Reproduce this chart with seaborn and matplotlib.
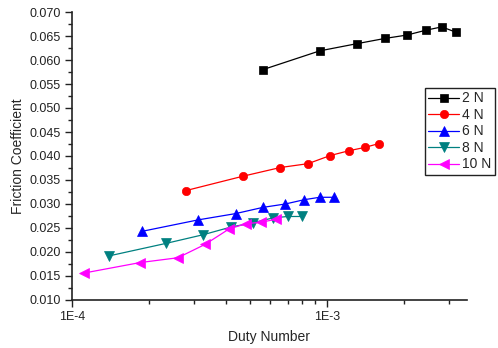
import matplotlib
matplotlib.use("Agg")
import matplotlib.pyplot as plt
import matplotlib.ticker as mticker
import seaborn as sns
import pandas as pd

# ---- data ----
labels = ["2 N", "4 N", "6 N", "8 N", "10 N"]
x_2N = [5.61e-4, 9.36e-4, 1.31e-3, 1.69e-3, 2.06e-3, 2.44e-3, 2.82e-3, 3.20e-3]
y_2N = [0.0580, 0.0619, 0.0634, 0.0645, 0.0652, 0.0662, 0.0669, 0.0658]
x_4N = [2.80e-4, 4.69e-4, 6.56e-4, 8.42e-4, 1.03e-3, 1.22e-3, 1.41e-3, 1.60e-3]
y_4N = [0.0328, 0.0358, 0.0376, 0.0384, 0.0401, 0.0411, 0.0418, 0.0426]
x_6N = [1.88e-4, 3.13e-4, 4.38e-4, 5.61e-4, 6.86e-4, 8.15e-4, 9.36e-4, 1.07e-3]
y_6N = [0.0243, 0.0267, 0.0280, 0.0293, 0.0300, 0.0309, 0.0314, 0.0314]
x_8N = [1.40e-4, 2.34e-4, 3.27e-4, 4.20e-4, 5.14e-4, 6.13e-4, 7.01e-4, 7.96e-4]
y_8N = [0.0192, 0.0218, 0.0236, 0.0252, 0.0261, 0.0271, 0.0274, 0.0274]
x_10N = [1.11e-4, 1.85e-4, 2.60e-4, 3.33e-4, 4.13e-4, 4.81e-4, 5.51e-4, 6.29e-4]
y_10N = [0.0156, 0.0178, 0.0188, 0.0216, 0.0248, 0.0259, 0.0262, 0.0268]
y_ticks = [0.010, 0.015, 0.020, 0.025, 0.030, 0.035, 0.040, 0.045,
           0.050, 0.055, 0.060, 0.065, 0.070]
x_tick_vals = [1e-4, 1e-3]
x_tick_labels = ["1E-4", "1E-3"]

series_x = [x_2N, x_4N, x_6N, x_8N, x_10N]
series_y = [y_2N, y_4N, y_6N, y_8N, y_10N]

colors = ["#000000", "#FF0000", "#0000FF", "#008080", "#FF00FF"]
markers = ["s", "o", "^", "v", "<"]
msizes = [5.5, 6, 6.5, 6.5, 6.5]

sns.set_style("ticks")
plt.rcParams["font.family"] = ["Liberation Sans", "DejaVu Sans"]
plt.rcParams["xtick.direction"] = "out"
plt.rcParams["ytick.direction"] = "out"

fig = plt.figure(figsize=(4.98, 3.48), dpi=100)
ax = fig.add_axes([72 / 498, 1 - 300 / 348, (467 - 72) / 498, (300 - 12) / 348])

for lab, xs, ys, c, m, ms in zip(labels, series_x, series_y, colors, markers, msizes):
    df = pd.DataFrame({"x": xs, "y": ys})
    sns.lineplot(data=df, x="x", y="y", ax=ax, color=c, marker=m,
                 markersize=ms, markeredgecolor=c, markerfacecolor=c,
                 markeredgewidth=0.5, linewidth=0.9, sort=False,
                 estimator=None, label=lab)

ax.set_xscale("log")
ax.set_xlim(1e-4, 10 ** (-3 + 140 / 255))
ax.set_ylim(0.010, 0.070)
ax.set_yticks(y_ticks)
ax.yaxis.set_major_formatter(mticker.FormatStrFormatter("%.3f"))
ax.yaxis.set_minor_locator(mticker.MultipleLocator(0.0025))
ax.xaxis.set_major_locator(mticker.FixedLocator(x_tick_vals))
ax.xaxis.set_major_formatter(mticker.FixedFormatter(x_tick_labels))
ax.xaxis.set_minor_locator(mticker.LogLocator(base=10, subs=range(2, 10), numticks=20))
ax.xaxis.set_minor_formatter(mticker.NullFormatter())

ax.tick_params(axis="both", which="major", length=5, width=1, labelsize=9,
               colors="#222222", labelcolor="#222222", pad=3)
ax.tick_params(axis="both", which="minor", length=3, width=1, colors="#222222")
for s in ["left", "bottom"]:
    ax.spines[s].set_linewidth(1.2)
    ax.spines[s].set_color("#222222")
sns.despine(ax=ax)

ax.set_xlabel("Duty Number", fontsize=10, labelpad=5)
ax.set_ylabel("Friction Coefficient", fontsize=10, labelpad=3)

leg = ax.legend(loc="upper left", bbox_to_anchor=(425 / 498, 1 - 88 / 348),
                bbox_transform=fig.transFigure, fontsize=10, frameon=True,
                fancybox=False, framealpha=1, edgecolor="#222222",
                handlelength=2.2, handletextpad=0.25, borderpad=0.25,
                labelspacing=0.18, borderaxespad=0)
leg.get_frame().set_linewidth(1.0)

fig.savefig("out.png", dpi=100)
